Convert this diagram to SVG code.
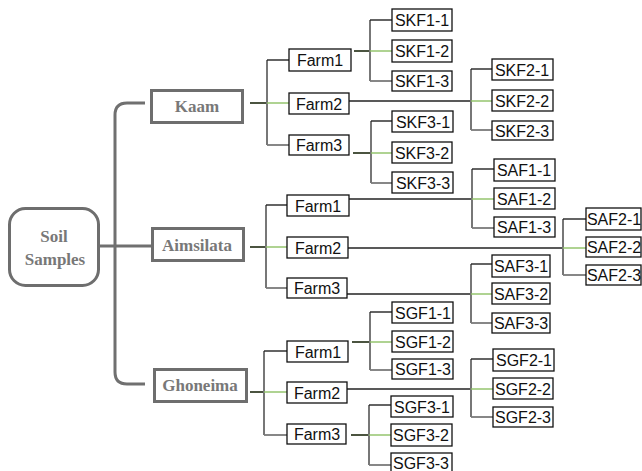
<svg xmlns="http://www.w3.org/2000/svg" width="642" height="471" viewBox="0 0 642 471">
<style>
.main rect{fill:#fff;stroke:#6e6e6e;stroke-width:3}
.main text{font-family:"Liberation Serif",serif;font-weight:bold;font-size:17px;fill:#787878;text-anchor:middle}
.leaf rect{fill:#fff;stroke:#111;stroke-width:1.3}
.leaf text{font-family:"Liberation Sans",Arial,sans-serif;font-size:16px;fill:#111;text-anchor:middle}
#connectors path{fill:none}
.trunk{stroke:#707070;stroke-width:3}
.stem{stroke:#4b5440;stroke-width:2}
.vert{stroke:#777;stroke-width:2}
.top{stroke:#222;stroke-width:1.4}
.mid{stroke:#8dc063;stroke-width:1.4}
.bot{stroke:#7a7a7a;stroke-width:1.8}
.long{stroke:#222;stroke-width:1.3}
</style>
<rect width="642" height="471" fill="#fff"/>
<g id="connectors">
<path class="trunk" d="M145,103 H127 Q115,103 115,115 V372 Q115,384 127,384 H145"/>
<path class="trunk" d="M100,246 H151"/>
<!-- Kaam -->
<path class="stem" d="M250,103 H267"/>
<path class="vert" d="M267,60 V145"/>
<path class="top" d="M267,60 H289"/>
<path class="mid" d="M267,103 H289"/>
<path class="bot" d="M267,145 H289"/>
<path class="stem" d="M354,51 H370"/>
<path class="vert" d="M370,20 V81"/>
<path class="top" d="M370,20 H392"/>
<path class="mid" d="M370,51 H392"/>
<path class="bot" d="M370,81 H392"/>
<path class="long" d="M349,101 H471"/>
<path class="vert" d="M471,69 V130"/>
<path class="top" d="M471,69 H492"/>
<path class="mid" d="M471,101 H492"/>
<path class="bot" d="M471,130 H492"/>
<path class="stem" d="M353,153 H371"/>
<path class="vert" d="M371,121 V183"/>
<path class="top" d="M371,121 H392"/>
<path class="mid" d="M371,153 H392"/>
<path class="bot" d="M371,183 H392"/>
<!-- Aimsilata -->
<path class="stem" d="M250,247 H266"/>
<path class="vert" d="M266,205 V288"/>
<path class="top" d="M266,205 H287"/>
<path class="mid" d="M266,247 H287"/>
<path class="bot" d="M266,288 H287"/>
<path class="long" d="M349,199 H472"/>
<path class="vert" d="M472,169 V228"/>
<path class="top" d="M472,169 H494"/>
<path class="mid" d="M472,199 H494"/>
<path class="bot" d="M472,228 H494"/>
<path class="long" d="M348,248 H563"/>
<path class="vert" d="M563,219 V275"/>
<path class="top" d="M563,219 H586"/>
<path class="mid" d="M563,248 H586"/>
<path class="bot" d="M563,275 H586"/>
<path class="long" d="M347,294 H471"/>
<path class="vert" d="M471,264 V323"/>
<path class="top" d="M471,264 H492"/>
<path class="mid" d="M471,294 H492"/>
<path class="bot" d="M471,323 H492"/>
<!-- Ghoneima -->
<path class="stem" d="M250,392 H264"/>
<path class="vert" d="M264,351 V435"/>
<path class="top" d="M264,351 H287"/>
<path class="mid" d="M264,392 H287"/>
<path class="bot" d="M264,435 H287"/>
<path class="stem" d="M352,342 H370"/>
<path class="vert" d="M370,312 V370"/>
<path class="top" d="M370,312 H392"/>
<path class="mid" d="M370,342 H392"/>
<path class="bot" d="M370,370 H392"/>
<path class="long" d="M347,389 H471"/>
<path class="vert" d="M471,359 V417"/>
<path class="top" d="M471,359 H493"/>
<path class="mid" d="M471,389 H493"/>
<path class="bot" d="M471,417 H493"/>
<path class="stem" d="M351,435 H369"/>
<path class="vert" d="M369,405 V465"/>
<path class="top" d="M369,405 H391"/>
<path class="mid" d="M369,435 H391"/>
<path class="bot" d="M369,465 H391"/>
</g>
<g id="soil" class="main"><rect x="9.5" y="208.5" width="89" height="77" rx="16"/><text x="54" y="242">Soil</text><text x="55" y="265">Samples</text></g>
<g id="kaam" class="main"><rect x="151.5" y="90.5" width="91" height="32"/><text x="197" y="112">Kaam</text></g>
<g id="aimsilata" class="main"><rect x="152.5" y="228.5" width="91" height="32"/><text x="197" y="251">Aimsilata</text></g>
<g id="ghoneima" class="main"><rect x="154.5" y="369.5" width="92" height="32"/><text x="200" y="391">Ghoneima</text></g>

<g id="k-farm1" class="leaf"><rect x="289" y="49" width="62" height="22"/><text x="320" y="66">Farm1</text></g>
<g id="k-farm2" class="leaf"><rect x="289" y="93" width="60" height="21"/><text x="319" y="109.5">Farm2</text></g>
<g id="k-farm3" class="leaf"><rect x="289" y="135" width="60" height="20"/><text x="319" y="151">Farm3</text></g>
<g id="skf1-1" class="leaf"><rect x="392" y="9" width="60" height="22"/><text x="422" y="26">SKF1-1</text></g>
<g id="skf1-2" class="leaf"><rect x="392" y="40" width="60" height="22"/><text x="422" y="57">SKF1-2</text></g>
<g id="skf1-3" class="leaf"><rect x="392" y="71" width="60" height="20"/><text x="422" y="87">SKF1-3</text></g>
<g id="skf2-1" class="leaf"><rect x="492" y="59" width="61" height="21"/><text x="522" y="75.5">SKF2-1</text></g>
<g id="skf2-2" class="leaf"><rect x="492" y="90" width="61" height="21"/><text x="522" y="106.5">SKF2-2</text></g>
<g id="skf2-3" class="leaf"><rect x="492" y="121" width="61" height="19"/><text x="522" y="136.5">SKF2-3</text></g>
<g id="skf3-1" class="leaf"><rect x="392" y="111" width="61" height="21"/><text x="423" y="127.5">SKF3-1</text></g>
<g id="skf3-2" class="leaf"><rect x="392" y="142" width="60" height="21"/><text x="422" y="158.5">SKF3-2</text></g>
<g id="skf3-3" class="leaf"><rect x="392" y="172" width="61" height="21"/><text x="423" y="188.5">SKF3-3</text></g>

<g id="a-farm1" class="leaf"><rect x="287" y="195" width="62" height="21"/><text x="318" y="211.5">Farm1</text></g>
<g id="a-farm2" class="leaf"><rect x="287" y="237" width="61" height="21"/><text x="318" y="253.5">Farm2</text></g>
<g id="a-farm3" class="leaf"><rect x="287" y="278" width="60" height="20"/><text x="317" y="294">Farm3</text></g>
<g id="saf1-1" class="leaf"><rect x="494" y="159" width="61" height="22"/><text x="524" y="176">SAF1-1</text></g>
<g id="saf1-2" class="leaf"><rect x="494" y="188" width="61" height="21"/><text x="524" y="204.5">SAF1-2</text></g>
<g id="saf1-3" class="leaf"><rect x="494" y="217" width="61" height="20"/><text x="524" y="233">SAF1-3</text></g>
<g id="saf2-1" class="leaf"><rect x="586" y="208" width="55" height="22"/><text x="614" y="225">SAF2-1</text></g>
<g id="saf2-2" class="leaf"><rect x="586" y="237" width="55" height="20"/><text x="614" y="253">SAF2-2</text></g>
<g id="saf2-3" class="leaf"><rect x="586" y="265" width="55" height="20"/><text x="614" y="281">SAF2-3</text></g>
<g id="saf3-1" class="leaf"><rect x="492" y="255" width="58" height="22"/><text x="521" y="272">SAF3-1</text></g>
<g id="saf3-2" class="leaf"><rect x="492" y="283" width="58" height="21"/><text x="521" y="299.5">SAF3-2</text></g>
<g id="saf3-3" class="leaf"><rect x="492" y="313" width="58" height="20"/><text x="521" y="329">SAF3-3</text></g>

<g id="g-farm1" class="leaf"><rect x="287" y="341" width="61" height="21"/><text x="318" y="357.5">Farm1</text></g>
<g id="g-farm2" class="leaf"><rect x="287" y="382" width="60" height="21"/><text x="317" y="398.5">Farm2</text></g>
<g id="g-farm3" class="leaf"><rect x="287" y="424" width="59" height="20"/><text x="317" y="440">Farm3</text></g>
<g id="sgf1-1" class="leaf"><rect x="392" y="302" width="61" height="21"/><text x="423" y="318.5">SGF1-1</text></g>
<g id="sgf1-2" class="leaf"><rect x="392" y="331" width="61" height="21"/><text x="423" y="347.5">SGF1-2</text></g>
<g id="sgf1-3" class="leaf"><rect x="392" y="359" width="61" height="20"/><text x="423" y="375">SGF1-3</text></g>
<g id="sgf2-1" class="leaf"><rect x="493" y="349" width="61" height="22"/><text x="524" y="366">SGF2-1</text></g>
<g id="sgf2-2" class="leaf"><rect x="493" y="378" width="60" height="21"/><text x="523" y="394.5">SGF2-2</text></g>
<g id="sgf2-3" class="leaf"><rect x="493" y="407" width="60" height="20"/><text x="523" y="423">SGF2-3</text></g>
<g id="sgf3-1" class="leaf"><rect x="391" y="396" width="62" height="21"/><text x="422" y="412.5">SGF3-1</text></g>
<g id="sgf3-2" class="leaf"><rect x="391" y="424" width="61" height="22"/><text x="421" y="441">SGF3-2</text></g>
<g id="sgf3-3" class="leaf"><rect x="391" y="453" width="61" height="20"/><text x="421" y="469">SGF3-3</text></g>
</svg>
